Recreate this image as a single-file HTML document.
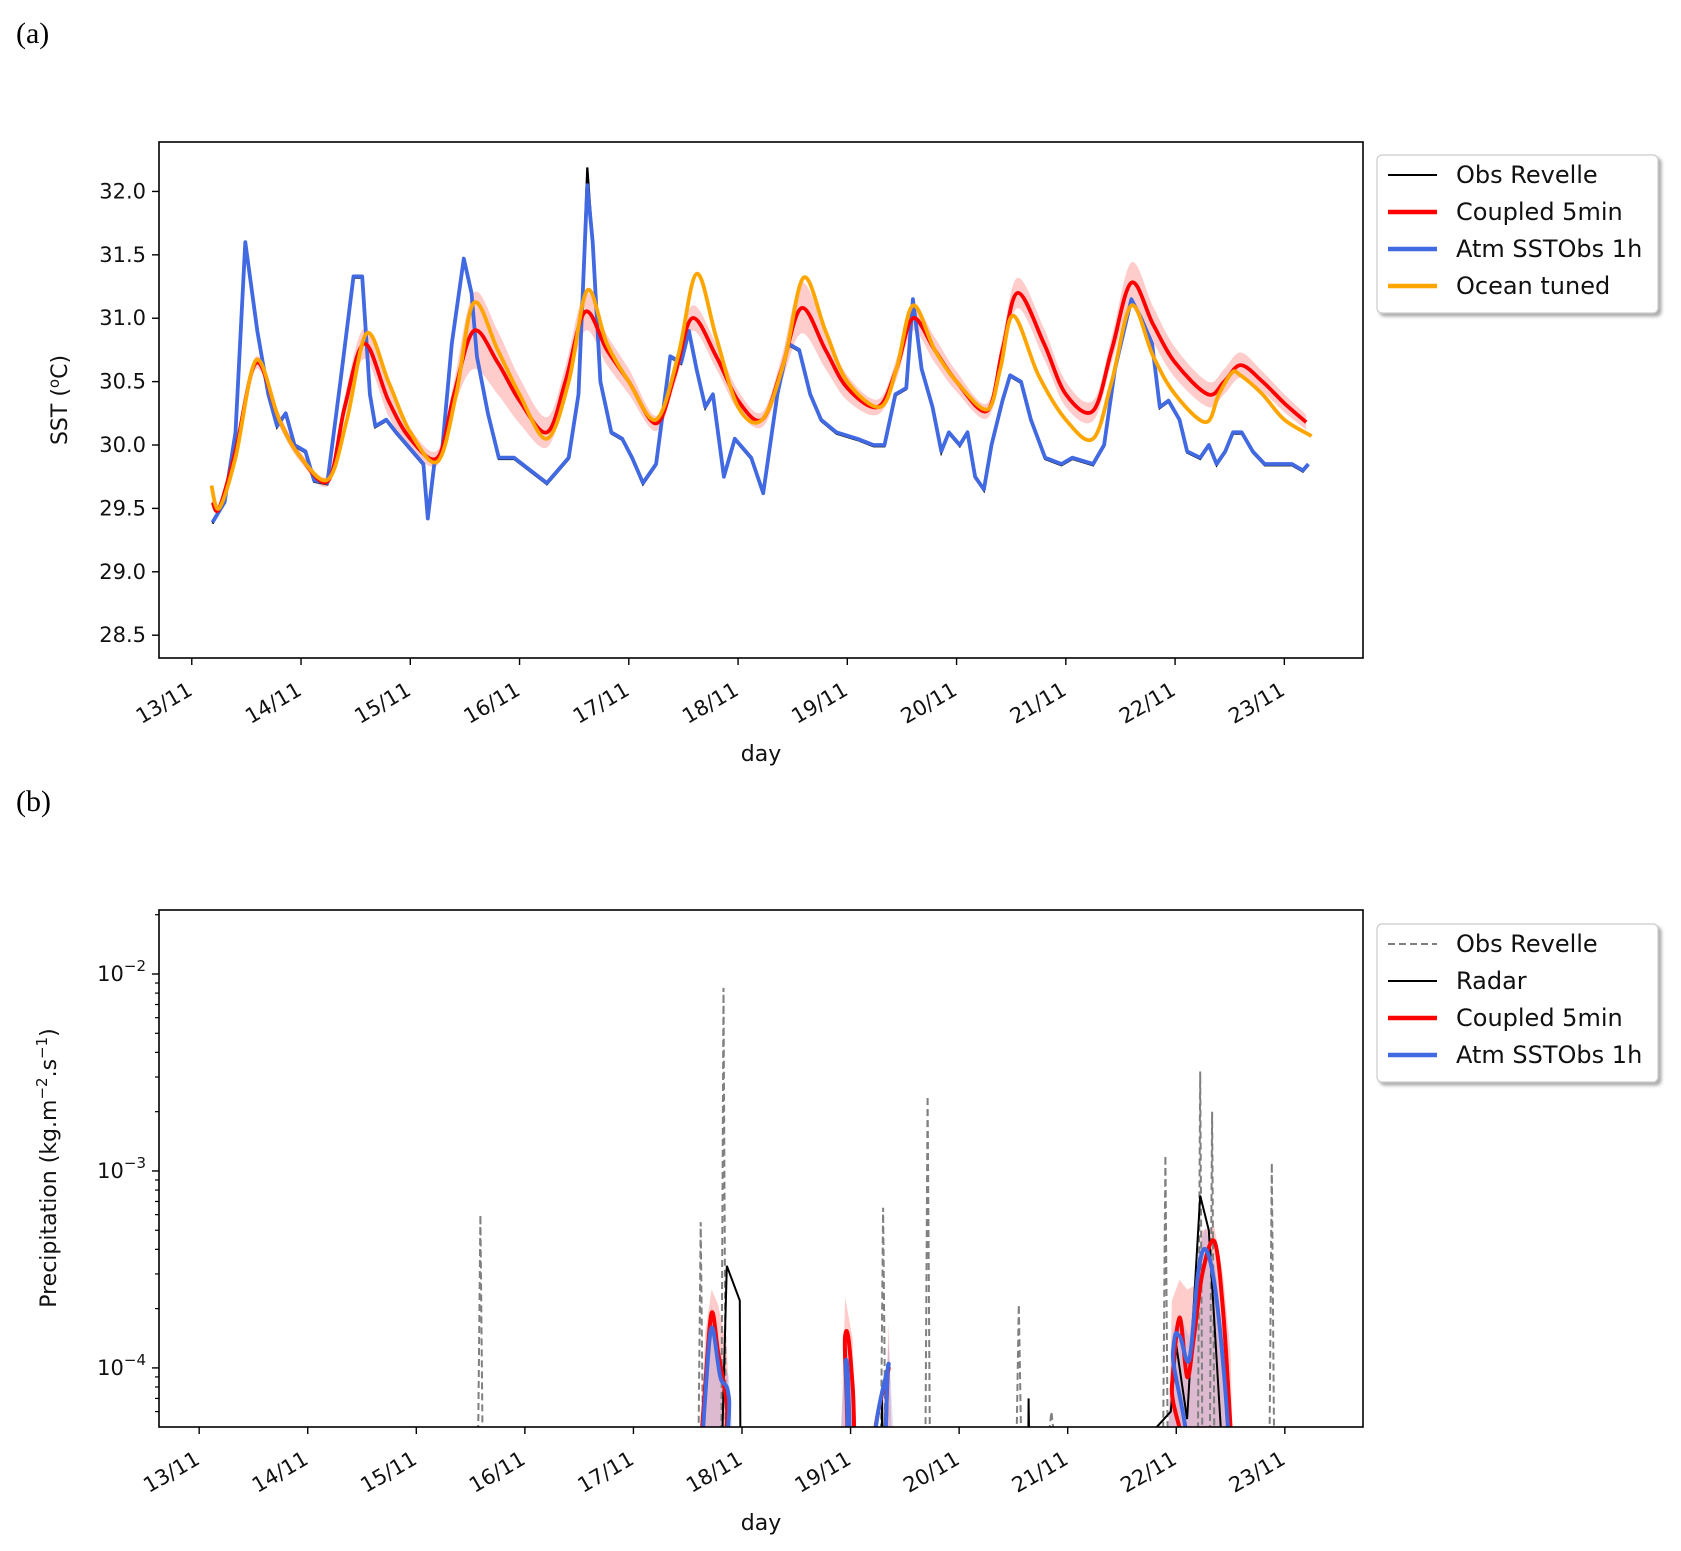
<!DOCTYPE html>
<html><head><meta charset="utf-8">
<style>
html,body{margin:0;padding:0;background:#fff;}
svg{display:block;font-family:"DejaVu Sans","Liberation Sans",sans-serif;}
</style></head>
<body>
<svg id="fig" width="1681" height="1551" viewBox="0 0 1681 1551" xmlns="http://www.w3.org/2000/svg">
<defs>
<clipPath id="clipA"><rect x="159" y="142" width="1204" height="516"/></clipPath>
<clipPath id="clipB"><rect x="159" y="910" width="1204" height="517"/></clipPath>
<filter id="sh" x="-5%" y="-5%" width="115%" height="125%"><feDropShadow dx="3" dy="3" stdDeviation="1.5" flood-color="#888" flood-opacity="0.7"/></filter>
</defs>
<text x="16" y="43" font-family="Liberation Serif, serif" font-size="30">(a)</text>
<text x="16" y="811" font-family="Liberation Serif, serif" font-size="30">(b)</text>
<g id="pa"></g>
<g id="pb"></g>
</svg>
<script>
// ---------- Panel (a) data ----------
const dayTicks = [13,14,15,16,17,18,19,20,21,22,23];
const dayLabels = ["13/11","14/11","15/11","16/11","17/11","18/11","19/11","20/11","21/11","22/11","23/11"];
const sstTicks = [28.5,29.0,29.5,30.0,30.5,31.0,31.5,32.0];
const sstTickLabels = ["28.5","29.0","29.5","30.0","30.5","31.0","31.5","32.0"];
const blueT = [13.19,13.30,13.40,13.49,13.60,13.70,13.78,13.86,13.94,14.04,14.12,14.24,14.36,14.48,14.56,14.63,14.68,14.78,14.87,15.02,15.12,15.16,15.22,15.29,15.38,15.49,15.56,15.61,15.71,15.81,15.95,16.10,16.25,16.35,16.45,16.54,16.62,16.67,16.74,16.84,16.94,17.03,17.13,17.25,17.38,17.48,17.55,17.62,17.70,17.77,17.87,17.97,18.12,18.23,18.36,18.46,18.56,18.66,18.76,18.90,19.09,19.24,19.34,19.44,19.54,19.60,19.68,19.78,19.86,19.93,20.03,20.10,20.17,20.25,20.32,20.42,20.49,20.59,20.68,20.81,20.96,21.06,21.25,21.35,21.45,21.60,21.69,21.79,21.86,21.94,22.04,22.11,22.23,22.31,22.38,22.46,22.53,22.61,22.71,22.82,22.94,23.07,23.17,23.22];
const blueV = [29.39,29.55,30.1,31.6,30.9,30.4,30.15,30.25,30.0,29.95,29.72,29.7,30.5,31.33,31.33,30.4,30.15,30.2,30.1,29.95,29.85,29.42,29.85,29.95,30.8,31.47,31.2,30.7,30.25,29.9,29.9,29.8,29.7,29.8,29.9,30.4,32.05,31.6,30.5,30.1,30.05,29.9,29.7,29.85,30.7,30.65,30.9,30.6,30.3,30.4,29.75,30.05,29.9,29.62,30.4,30.8,30.75,30.4,30.2,30.1,30.05,30.0,30.0,30.4,30.45,31.15,30.6,30.3,29.95,30.1,30.0,30.1,29.75,29.65,30.0,30.35,30.55,30.5,30.2,29.9,29.85,29.9,29.85,30.0,30.6,31.15,31.0,30.8,30.3,30.35,30.2,29.95,29.9,30.0,29.85,29.95,30.1,30.1,29.95,29.85,29.85,29.85,29.8,29.85];
const redT = [13.19,13.25,13.40,13.59,13.80,14.0,14.25,14.40,14.58,14.80,15.0,15.25,15.40,15.58,15.80,16.0,16.25,16.42,16.60,16.80,17.0,17.25,17.42,17.58,17.80,18.0,18.22,18.40,18.58,18.80,19.0,19.28,19.45,19.60,19.80,20.0,20.28,20.42,20.56,20.80,21.0,21.25,21.42,21.60,21.80,22.0,22.30,22.45,22.60,22.80,23.0,23.20];
const redV = [29.55,29.5,29.95,30.65,30.2,29.9,29.72,30.3,30.8,30.35,30.05,29.9,30.4,30.9,30.65,30.35,30.1,30.5,31.05,30.75,30.5,30.17,30.55,31.0,30.7,30.35,30.2,30.6,31.08,30.75,30.45,30.3,30.6,31.0,30.75,30.5,30.27,30.75,31.2,30.8,30.4,30.27,30.75,31.28,30.95,30.65,30.4,30.5,30.63,30.5,30.33,30.18];
const redSpread = [0.02,0.02,0.05,0.05,0.05,0.04,0.04,0.08,0.12,0.12,0.08,0.06,0.1,0.3,0.25,0.18,0.12,0.12,0.15,0.12,0.1,0.06,0.08,0.1,0.1,0.08,0.06,0.1,0.2,0.15,0.1,0.06,0.08,0.1,0.1,0.08,0.06,0.1,0.12,0.12,0.1,0.08,0.1,0.16,0.14,0.12,0.1,0.1,0.1,0.08,0.07,0.06];
const orangeT = [13.18,13.25,13.40,13.59,13.80,14.0,14.25,14.42,14.60,14.80,15.0,15.25,15.42,15.58,15.80,16.0,16.25,16.45,16.62,16.80,17.0,17.25,17.45,17.62,17.80,18.0,18.22,18.42,18.60,18.80,19.0,19.30,19.45,19.60,19.80,20.0,20.28,20.40,20.52,20.75,21.0,21.25,21.42,21.60,21.80,22.0,22.28,22.40,22.52,22.60,22.80,23.0,23.25];
const orangeV = [29.68,29.5,29.9,30.67,30.2,29.9,29.73,30.2,30.88,30.5,30.1,29.87,30.4,31.12,30.75,30.4,30.05,30.5,31.22,30.8,30.5,30.2,30.7,31.35,30.85,30.3,30.2,30.65,31.32,30.9,30.5,30.3,30.6,31.1,30.75,30.5,30.28,30.6,31.02,30.55,30.2,30.05,30.5,31.1,30.7,30.4,30.18,30.4,30.57,30.55,30.4,30.2,30.07];

// ---------- Panel (b) data ----------
const precipTicks = [1e-4,1e-3,1e-2];
const precipTickExp = ["−4","−3","−2"];
const obsSpikeT = [15.59,17.62,17.83,19.30,19.71,20.55,20.85,21.90,22.22,22.33,22.88];
const obsSpikeV = [6e-4,5.5e-4,8.5e-3,6.5e-4,2.4e-3,2.1e-4,6e-5,1.2e-3,3.2e-3,2.0e-3,1.1e-3];
const radarT = [17.80,17.81,17.86,17.98,17.99,19.28,19.29,19.31,20.63,20.64,20.66,21.95,22.00,22.10,22.22,22.30,22.42,22.43];
const radarV = [1e-5,3e-5,3.3e-4,2.2e-4,1e-5,1e-5,7e-5,1e-5,1e-5,7e-5,1e-5,6e-5,1.3e-4,5.5e-5,7.5e-4,5e-4,4e-5,1e-5];
const cplT = [17.58,17.66,17.72,17.78,17.86,17.94,18.88,18.95,19.02,19.07,19.28,19.35,19.41,21.90,21.96,22.03,22.10,22.16,22.24,22.35,22.43,22.50,22.55];
const cplV = [2e-5,8e-5,1.9e-4,1.2e-4,6.5e-5,2e-5,2e-5,1.45e-4,8e-5,2e-5,2e-5,1e-4,2e-5,2e-5,8e-5,1.8e-4,9e-5,1.4e-4,3e-4,4.4e-4,2e-4,5e-5,2e-5];
const cplHi = [1e-5,1.5e-4,2.5e-4,2.1e-4,1.3e-4,1e-5,1e-5,2.3e-4,1.4e-4,1e-5,1e-5,1.7e-4,1e-5,1e-5,2.2e-4,2.8e-4,2.5e-4,2.6e-4,5e-4,5.2e-4,3e-4,1.2e-4,1e-5];
const atmT = [17.60,17.66,17.72,17.80,17.88,17.94,18.88,18.96,19.04,19.28,19.35,19.42,21.90,21.97,22.03,22.12,22.20,22.27,22.36,22.45,22.52];
const atmV = [2e-5,7e-5,1.6e-4,9e-5,7e-5,2e-5,2e-5,1.1e-4,2e-5,2e-5,1.05e-4,2e-5,2e-5,1.2e-4,1.45e-4,1.1e-4,3e-4,4e-4,2.5e-4,8e-5,2e-5];

const NS="http://www.w3.org/2000/svg";
function mk(tag,attrs,parent){const e=document.createElementNS(NS,tag);for(const k in attrs)e.setAttribute(k,attrs[k]);parent.appendChild(e);return e;}
function linPath(pts){return pts.map((p,i)=>(i?"L":"M")+p[0].toFixed(1)+","+p[1].toFixed(1)).join("");}
function smoothPath(pts){let d="M"+pts[0][0]+","+pts[0][1];for(let i=0;i<pts.length-1;i++){const p0=pts[i-1]||pts[i],p1=pts[i],p2=pts[i+1],p3=pts[i+2]||p2;const c1=[p1[0]+(p2[0]-p0[0])/6,p1[1]+(p2[1]-p0[1])/6],c2=[p2[0]-(p3[0]-p1[0])/6,p2[1]-(p3[1]-p1[1])/6];d+="C"+c1[0].toFixed(1)+","+c1[1].toFixed(1)+" "+c2[0].toFixed(1)+","+c2[1].toFixed(1)+" "+p2[0].toFixed(1)+","+p2[1].toFixed(1);}return d;}

// ---------- Panel (a) ----------
const pa=document.getElementById('pa');
const AX={l:159,t:142,r:1363,b:658};
const xA=d=>AX.l+(d-12.70)*(AX.r-AX.l)/(23.72-12.70);
const yA=v=>AX.t+(32.39-v)*(AX.b-AX.t)/(32.39-28.32);
const gA=mk('g',{'clip-path':'url(#clipA)'},pa);
const bandPts=redT.map((t,i)=>[xA(t),yA(redV[i]+redSpread[i])]).concat(redT.map((t,i)=>[xA(t),yA(redV[i]-redSpread[i])]).reverse());
let band=mk('path',{d:smoothPath(bandPts.slice(0,redT.length))+"L"+smoothPath(bandPts.slice(redT.length)).slice(1)+"Z",fill:'#ff0000','fill-opacity':0.2,stroke:'none'},gA);


let obs=mk('path',{d:linPath(blueT.map((t,i)=>[xA(t),yA(blueV[i]+(blueV[i]>31.9?0.15:0)-0.01)])),fill:'none',stroke:'#000','stroke-width':2.2},gA);


let blu=mk('path',{d:linPath(blueT.map((t,i)=>[xA(t),yA(blueV[i])])),fill:'none',stroke:'#4169e1','stroke-width':3.8,'stroke-linejoin':'round'},gA);


let red=mk('path',{d:smoothPath(redT.map((t,i)=>[xA(t),yA(redV[i])])),fill:'none',stroke:'#ff0000','stroke-width':3.8},gA);


let org=mk('path',{d:smoothPath(orangeT.map((t,i)=>[xA(t),yA(orangeV[i])])),fill:'none',stroke:'#ffa500','stroke-width':3.8},gA);


let frA=mk('rect',{x:AX.l,y:AX.t,width:AX.r-AX.l,height:AX.b-AX.t,fill:'none',stroke:'#000','stroke-width':1.6},pa);


sstTicks.forEach((v,i)=>{const y=yA(v);mk('line',{x1:AX.l-7,x2:AX.l,y1:y,y2:y,stroke:'#000','stroke-width':1.4},pa);
 const t=mk('text',{x:AX.l-13,y:y+7,'text-anchor':'end','font-size':21,fill:'#111'},pa);t.textContent=sstTickLabels[i];
 
 });
function xTicks(parent,xf,bottom,lbls){dayTicks.forEach((d,i)=>{const x=xf(d);mk('line',{x1:x,x2:x,y1:bottom,y2:bottom+7,stroke:'#000','stroke-width':1.4},parent);
 const t=mk('text',{x:0,y:0,'text-anchor':'end','font-size':21,fill:'#111',transform:`translate(${x+2},${bottom+36}) rotate(-30)`},parent);t.textContent=lbls[i];
 
 });}
xTicks(pa,xA,AX.b,dayLabels);
let xlA=mk('text',{x:761,y:761,'text-anchor':'middle','font-size':22,fill:'#111'},pa);xlA.textContent='day';


let ylA=mk('text',{x:0,y:0,'text-anchor':'middle','font-size':22,fill:'#111',transform:'translate(67,400) rotate(-90)'},pa);
ylA.innerHTML='SST (<tspan font-size="15" dy="-8">o</tspan><tspan dy="8">C)</tspan>';



function legend(parent,y0,entries){const g=mk('g',{},parent);
 
 
 mk('rect',{x:1377,y:y0,width:281,height:entries.length*37+10,rx:5,fill:'#fff',stroke:'#ccc','stroke-width':1.2,filter:'url(#sh)'},g);
 entries.forEach((e,i)=>{const y=y0+20+i*37;const ln=mk('line',{x1:1388,x2:1437,y1:y,y2:y,stroke:e.c,'stroke-width':e.w},g);
  if(e.dash)ln.setAttribute('stroke-dasharray',e.dash);
  const t=mk('text',{x:1456,y:y+8,'font-size':24,fill:'#111'},g);t.textContent=e.n;
  
  });}
legend(pa,155,[{n:'Obs Revelle',c:'#000',w:2},{n:'Coupled 5min',c:'#ff0000',w:4.5},{n:'Atm SSTObs 1h',c:'#4169e1',w:4.5},{n:'Ocean tuned',c:'#ffa500',w:4.5}]);

// ---------- Panel (b) ----------
const pb=document.getElementById('pb');
const BX={l:159,t:910,r:1363,b:1427};
const xB=d=>BX.l+(d-12.63)*(BX.r-BX.l)/(23.72-12.63);
const yB=v=>BX.t+(-1.675-Math.log10(v))*(BX.b-BX.t)/(4.30-1.675);
const gB=mk('g',{'clip-path':'url(#clipB)'},pb);
let cb=mk('path',{d:linPath(cplT.map((t,i)=>[xB(t),yB(cplHi[i])]))+"L"+xB(cplT[cplT.length-1])+","+(BX.b+20)+"L"+xB(cplT[0])+","+(BX.b+20)+"Z",fill:'#ff0000','fill-opacity':0.2},gB);


let ab=mk('path',{d:linPath(atmT.map((t,i)=>[xB(t),yB(atmV[i]*1.3)]))+"L"+xB(atmT[atmT.length-1])+","+(BX.b+20)+"L"+xB(atmT[0])+","+(BX.b+20)+"Z",fill:'#4169e1','fill-opacity':0.18},gB);


const obsPts=[];obsSpikeT.forEach((t,i)=>{obsPts.push([xB(t-0.02),BX.b+5],[xB(t),yB(obsSpikeV[i])],[xB(t+0.02),BX.b+5]);});
let op=mk('path',{d:linPath(obsPts),fill:'none',stroke:'#808080','stroke-width':2,'stroke-dasharray':'7,4'},gB);


let rp=mk('path',{d:linPath(radarT.map((t,i)=>[xB(t),yB(radarV[i])])),fill:'none',stroke:'#000','stroke-width':2},gB);


let cp=mk('path',{d:smoothPath(cplT.map((t,i)=>[xB(t),yB(cplV[i])])),fill:'none',stroke:'#ff0000','stroke-width':4},gB);


let apl=mk('path',{d:smoothPath(atmT.map((t,i)=>[xB(t),yB(atmV[i])])),fill:'none',stroke:'#4169e1','stroke-width':4},gB);


let frB=mk('rect',{x:BX.l,y:BX.t,width:BX.r-BX.l,height:BX.b-BX.t,fill:'none',stroke:'#000','stroke-width':1.6},pb);


for(let e=-5;e<=-2;e++){for(let m=2;m<=9;m++){const v=m*Math.pow(10,e);const y=yB(v);if(y<BX.t||y>BX.b)continue;mk('line',{x1:BX.l-4,x2:BX.l,y1:y,y2:y,stroke:'#000','stroke-width':1.2},pb);}}
precipTicks.forEach((v,i)=>{const y=yB(v);mk('line',{x1:BX.l-7,x2:BX.l,y1:y,y2:y,stroke:'#000','stroke-width':1.4},pb);
 const t=mk('text',{x:BX.l-13,y:y+7,'text-anchor':'end','font-size':21,fill:'#111'},pb);
 t.innerHTML='10<tspan font-size="15" dy="-10">'+precipTickExp[i]+'</tspan>';
 
 });
xTicks(pb,xB,BX.b,dayLabels);
let xlB=mk('text',{x:761,y:1530,'text-anchor':'middle','font-size':22,fill:'#111'},pb);xlB.textContent='day';


let ylB=mk('text',{x:0,y:0,'text-anchor':'middle','font-size':22,fill:'#111',transform:'translate(56,1168) rotate(-90)'},pb);
ylB.innerHTML='Precipitation (kg.m<tspan font-size="15" dy="-9">−2</tspan><tspan dy="9">.s</tspan><tspan font-size="15" dy="-9">−1</tspan><tspan dy="9">)</tspan>';


legend(pb,924,[{n:'Obs Revelle',c:'#808080',w:2,dash:'7,4'},{n:'Radar',c:'#000',w:2},{n:'Coupled 5min',c:'#ff0000',w:4.5},{n:'Atm SSTObs 1h',c:'#4169e1',w:4.5}]);
</script>
</body></html>
